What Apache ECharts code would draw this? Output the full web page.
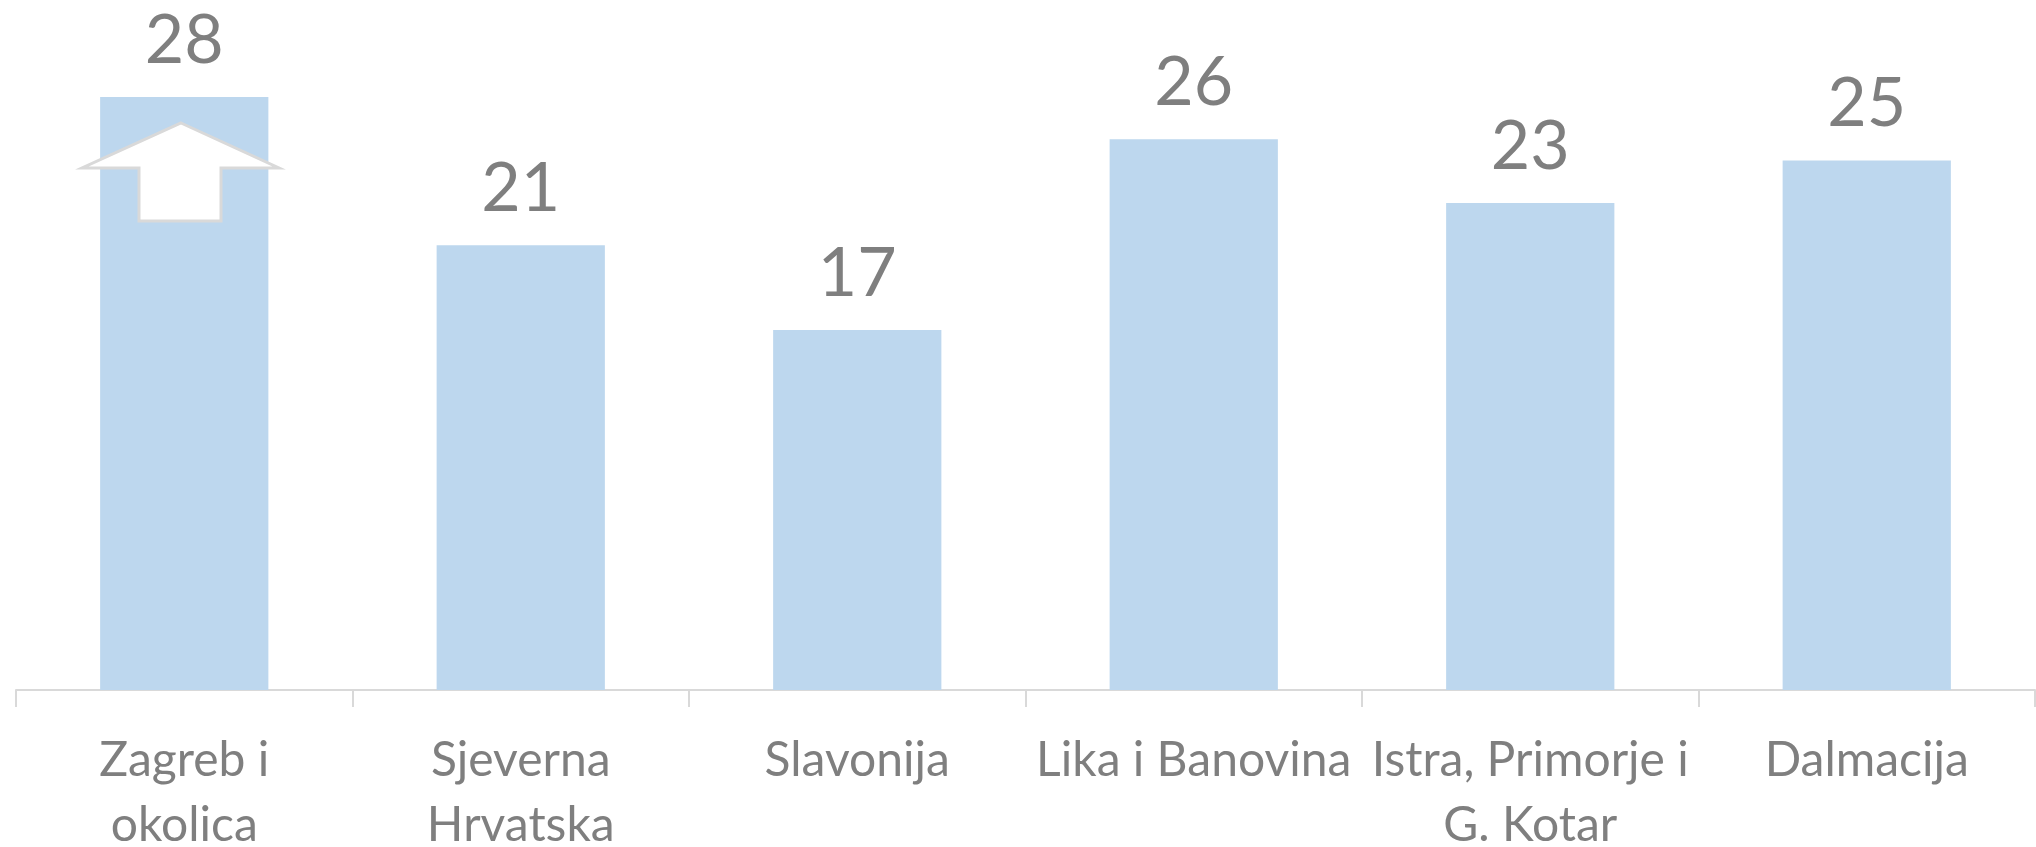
<!DOCTYPE html>
<html>
<head>
  <meta charset="utf-8">
  <script src="https://cdnjs.cloudflare.com/ajax/libs/echarts/6.0.0/echarts.min.js"></script>
  <title>Regije</title>
</head>
<body style="margin: 0; overflow: hidden; background: #fff;">
  <div id="main" style="width: 2036px; height: 847px;"></div>
  <script>
    var regions = ['Zagreb i\nokolica', 'Sjeverna\nHrvatska', 'Slavonija', 'Lika i Banovina', 'Istra, Primorje i\nG. Kotar', 'Dalmacija'];
    var values = [28, 21, 17, 26, 23, 25];

    var myChart = echarts.init(document.getElementById('main'));
    var fontName = 'Lato';
    var grey = '#7f7f7f';

    var option = {
      animation: false,
      grid: { left: 16, right: 1, top: 97, bottom: 157, outerBoundsMode: 'none' },
      xAxis: {
        type: 'category',
        data: regions,
        axisLine: { lineStyle: { color: '#d9d9d9', width: 2 } },
        axisTick: { show: true, length: 17, lineStyle: { color: '#d9d9d9', width: 2 } },
        axisLabel: { color: grey, fontFamily: fontName, fontSize: 48, lineHeight: 65, margin: 38, interval: 0, hideOverlap: false }
      },
      yAxis: { type: 'value', min: 0, max: 28, show: false },
      series: [{
        type: 'bar',
        data: values,
        barWidth: '50%',
        itemStyle: { color: '#bdd7ee' },
        label: { show: true, position: 'top', distance: 22, color: grey, fontFamily: fontName, fontSize: 68 }
      }],
      // arrow annotation over the first bar
      graphic: [{
        type: 'polygon',
        z: 100,
        shape: { points: [[181, 123], [279, 168], [221, 168], [221, 221], [139, 221], [139, 168], [82, 168]] },
        style: { fill: '#ffffff', stroke: '#d9d9d9', lineWidth: 3 }
      }]
    };

    myChart.setOption(option);
  </script>
</body>
</html>
